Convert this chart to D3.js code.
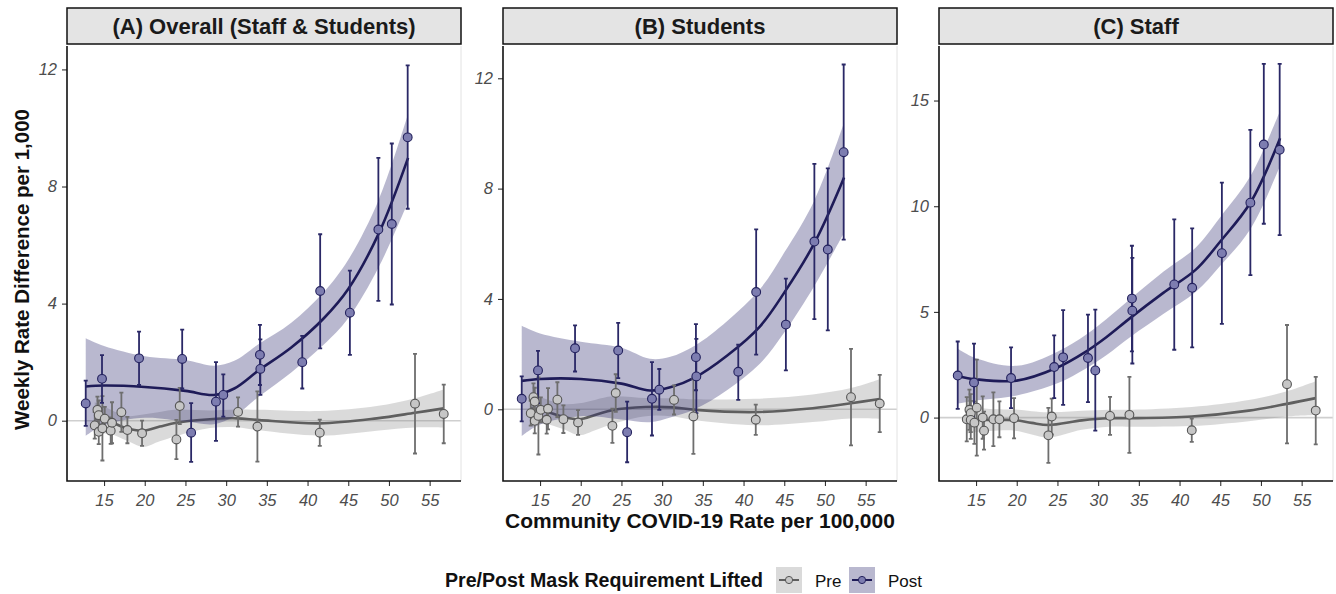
<!DOCTYPE html>
<html>
<head>
<meta charset="utf-8">
<script src="https://cdn.jsdelivr.net/npm/d3@7"></script>
<style>
  body { margin: 0; background: #fff; }
  svg { display: block; font-family: "Liberation Sans", Arial, sans-serif; }
</style>
</head>
<body>
<svg id="chart" width="1336" height="594"></svg>
<script>
// ---- data ----
const panelTitles = ['(A) Overall (Staff & Students)', '(B) Students', '(C) Staff'];
const xTicks = [15, 20, 25, 30, 35, 40, 45, 50, 55];
const yTicksAB = [0, 4, 8, 12];
const yTicksC = [0, 5, 10, 15];
const groups = ['Pre', 'Post'];

// community rate per 100,000 for each week
const preX = [13.86, 14.19, 14.35, 14.35, 14.8, 15.09, 15.82, 15.98, 17.13, 17.87, 19.67, 23.89, 24.3, 31.46, 33.84, 41.5, 53.2, 56.73];
const postX = [12.75, 14.75, 19.3, 24.6, 25.7, 28.75, 29.65, 34.15, 34.2, 39.35, 41.55, 45.2, 48.7, 50.35, 52.3];

// (A) overall
const preA = [-0.16, 0.37, 0.19, -0.38, -0.26, 0.07, -0.34, -0.07, 0.29, -0.32, -0.43, -0.64, 0.5, 0.3, -0.2, -0.41, 0.58, 0.23];
const preLoA = [-0.61, -0.08, -0.31, -0.8, -1.36, -0.33, -0.79, -0.77, -0.38, -0.77, -0.86, -1.31, -0.12, -0.2, -1.4, -0.86, -1.12, -0.77];
const preHiA = [0.29, 0.82, 0.69, 0.04, 0.84, 0.47, 0.11, 0.63, 0.96, 0.13, 0.0, 0.03, 1.12, 0.8, 1.0, 0.04, 2.28, 1.23];
const postA = [0.59, 1.43, 2.13, 2.11, -0.41, 0.65, 0.88, 2.25, 1.77, 2.0, 4.43, 3.69, 6.53, 6.72, 9.68];
const postLoA = [-0.18, 0.61, 1.22, 1.1, -1.41, -0.69, 0.14, 1.22, 0.88, 1.1, 2.47, 2.25, 4.09, 3.97, 7.24];
const postHiA = [1.37, 2.24, 3.04, 3.11, 0.6, 2.0, 1.58, 3.27, 2.78, 2.9, 6.37, 5.13, 8.98, 9.47, 12.14];

// (B) students
const preB = [-0.14, 0.44, 0.28, -0.42, -0.24, -0.02, -0.38, 0.02, 0.35, -0.36, -0.48, -0.6, 0.59, 0.34, -0.26, -0.38, 0.44, 0.21];
const preLoB = [-0.59, -0.06, -0.22, -0.87, -1.64, -0.47, -0.88, -0.73, -0.28, -0.86, -0.93, -1.22, -0.09, -0.19, -1.62, -0.93, -1.31, -0.83];
const preHiB = [0.31, 0.94, 0.78, 0.03, 1.16, 0.43, 0.12, 0.77, 0.98, 0.14, -0.03, 0.02, 1.27, 0.87, 1.1, 0.17, 2.19, 1.25];
const postB = [0.38, 1.41, 2.21, 2.13, -0.83, 0.38, 0.71, 1.89, 1.19, 1.36, 4.25, 3.07, 6.08, 5.79, 9.32];
const postLoB = [-0.44, 0.22, 1.37, 1.13, -1.92, -0.95, -0.02, 0.69, -0.14, 0.34, 1.98, 1.41, 3.27, 2.86, 6.15];
const postHiB = [1.19, 2.12, 3.04, 3.13, 0.28, 1.71, 1.46, 3.09, 2.55, 2.34, 6.52, 4.74, 8.9, 8.73, 12.5];

// (C) staff
const preC = [-0.08, 0.37, 0.21, -0.11, -0.24, 0.47, 0.0, -0.62, -0.08, -0.08, -0.03, -0.84, 0.05, 0.08, 0.13, -0.6, 1.58, 0.33];
const preLoC = [-1.13, -0.58, -0.69, -1.01, -1.24, -1.8, -1.0, -1.52, -1.35, -0.93, -0.98, -2.14, -0.8, -0.82, -1.67, -1.15, -1.22, -1.27];
const preHiC = [0.97, 1.32, 1.11, 0.79, 0.76, 2.74, 1.0, 0.28, 1.19, 0.77, 0.92, 0.46, 0.9, 0.98, 1.93, -0.05, 4.38, 1.93];
const postC = [1.99, 1.66, 1.87, 2.39, 2.85, 2.82, 2.23, 5.63, 5.06, 6.3, 6.14, 7.78, 10.17, 12.92, 12.67];
const postLoC = [0.41, -0.3, 0.45, 0.92, 0.6, 0.73, -0.62, 3.13, 2.56, 3.21, 3.32, 4.43, 6.74, 9.17, 8.63];
const postHiC = [3.6, 3.5, 3.32, 3.89, 5.08, 4.87, 5.11, 8.13, 7.56, 9.38, 8.95, 11.12, 13.61, 16.73, 16.73];

// loess smoothers, read at a few x positions (fit, lower, upper)
const preKnots = [13.86, 15.7, 17.75, 19.8, 21.85, 23.9, 28, 31.3, 34.1, 41.5, 48.5, 53.2, 56.73];
const postKnots = [12.75, 15, 20, 25, 28.5, 31, 34, 38, 42, 45, 48.75, 52.35];

const preFitA = [0.08, -0.03, -0.26, -0.34, -0.2, -0.07, 0.05, 0.08, 0.02, -0.09, 0.08, 0.27, 0.42];
const preFitLoA = [-0.47, -0.45, -0.68, -0.89, -0.7, -0.52, -0.25, -0.22, -0.33, -0.51, -0.34, -0.23, -0.23];
const preFitHiA = [0.63, 0.39, 0.16, 0.21, 0.3, 0.38, 0.35, 0.38, 0.37, 0.33, 0.5, 0.77, 1.07];
const postFitA = [1.17, 1.2, 1.15, 1.02, 0.88, 1.1, 1.72, 2.5, 3.5, 4.5, 6.4, 8.98];
const postFitLoA = [-0.52, -0.15, 0.1, -0.03, -0.12, 0.15, 0.82, 1.65, 2.6, 3.5, 5.25, 7.48];
const postFitHiA = [2.82, 2.55, 2.2, 2.07, 1.88, 2.05, 2.62, 3.35, 4.4, 5.5, 7.55, 10.48];

const preFitB = [0.04, -0.08, -0.26, -0.36, -0.2, -0.03, 0.08, 0.07, -0.02, -0.1, 0.04, 0.22, 0.37];
const preFitLoB = [-0.56, -0.53, -0.71, -0.94, -0.75, -0.53, -0.25, -0.26, -0.4, -0.58, -0.46, -0.33, -0.35];
const preFitHiB = [0.64, 0.37, 0.19, 0.22, 0.35, 0.47, 0.41, 0.4, 0.36, 0.38, 0.54, 0.77, 1.09];
const postFitB = [1.03, 1.1, 1.1, 0.93, 0.68, 0.8, 1.15, 1.95, 3.0, 4.23, 6.05, 8.4];
const postFitLoB = [-0.97, -0.55, -0.25, -0.37, -0.47, -0.3, 0.0, 0.7, 1.65, 2.78, 4.5, 6.4];
const postFitHiB = [3.03, 2.75, 2.45, 2.23, 1.83, 1.9, 2.3, 3.2, 4.35, 5.68, 7.6, 10.4];

const preFitC = [-0.1, -0.11, -0.11, -0.12, -0.25, -0.35, -0.13, -0.03, -0.03, 0.05, 0.33, 0.65, 0.92];
const preFitLoC = [-0.75, -0.66, -0.61, -0.62, -0.8, -0.95, -0.58, -0.43, -0.43, -0.4, -0.17, 0.05, 0.12];
const preFitHiC = [0.55, 0.44, 0.39, 0.38, 0.3, 0.25, 0.32, 0.37, 0.37, 0.5, 0.83, 1.25, 1.72];
const postFitC = [1.96, 1.81, 1.75, 2.37, 3.12, 3.8, 4.73, 5.9, 7.0, 8.33, 10.2, 13.22];
const postFitLoC = [0.66, 0.81, 1.05, 1.62, 2.32, 2.95, 3.83, 4.9, 5.95, 7.18, 8.95, 11.92];
const postFitHiC = [3.26, 2.81, 2.45, 3.12, 3.92, 4.65, 5.63, 6.9, 8.05, 9.48, 11.45, 14.52];

// ---- layout ----
const svg = d3.select('#chart');
const panelTop = 46;
const panelH = 435;
const panelW = 394;
const stripTop = 8;
const xDomain = [10.45, 58.85];

const style = {
  Pre: { line: '#5f5f5f', bar: '#6e6e6e', fill: '#c6c6c6', stroke: '#555555', band: '#8c8c8c', bandOpacity: 0.32 },
  Post: { line: '#1e1b58', bar: '#2a2866', fill: '#7d7db0', stroke: '#23215d', band: '#24226a', bandOpacity: 0.32 }
};

const zip = (xs, ys, los, his) => xs.map((x, i) => ({ x, y: ys[i], lo: los[i], hi: his[i] }));

const panels = [
  { title: panelTitles[0], left: 67, yDomain: [-2.06, 12.8], yTicks: yTicksAB,
    Pre: { pts: zip(preX, preA, preLoA, preHiA), fit: zip(preKnots, preFitA, preFitLoA, preFitHiA) },
    Post: { pts: zip(postX, postA, postLoA, postHiA), fit: zip(postKnots, postFitA, postFitLoA, postFitHiA) } },
  { title: panelTitles[1], left: 503, yDomain: [-2.6, 13.17], yTicks: yTicksAB,
    Pre: { pts: zip(preX, preB, preLoB, preHiB), fit: zip(preKnots, preFitB, preFitLoB, preFitHiB) },
    Post: { pts: zip(postX, postB, postLoB, postHiB), fit: zip(postKnots, postFitB, postFitLoB, postFitHiB) } },
  { title: panelTitles[2], left: 939, yDomain: [-3.0, 17.58], yTicks: yTicksC,
    Pre: { pts: zip(preX, preC, preLoC, preHiC), fit: zip(preKnots, preFitC, preFitLoC, preFitHiC) },
    Post: { pts: zip(postX, postC, postLoC, postHiC), fit: zip(postKnots, postFitC, postFitLoC, postFitHiC) } }
];

const defs = svg.append('defs');

panels.forEach((p, pi) => {
  const x = d3.scaleLinear().domain(xDomain).range([0, panelW]);
  const y = d3.scaleLinear().domain(p.yDomain).range([panelH, 0]);

  // strip
  svg.append('rect')
    .attr('x', p.left).attr('y', stripTop)
    .attr('width', panelW).attr('height', panelTop - stripTop - 2)
    .attr('fill', '#e4e4e4').attr('stroke', '#111').attr('stroke-width', 1.5);
  svg.append('text')
    .attr('x', p.left + panelW / 2).attr('y', stripTop + 26)
    .attr('text-anchor', 'middle')
    .attr('font-size', 22).attr('font-weight', 'bold').attr('fill', '#1a1a1a')
    .text(p.title);

  const g = svg.append('g').attr('transform', `translate(${p.left},${panelTop})`);

  defs.append('clipPath').attr('id', `clip${pi}`)
    .append('rect').attr('width', panelW).attr('height', panelH);

  const plot = g.append('g').attr('clip-path', `url(#clip${pi})`);

  // zero reference line
  plot.append('line')
    .attr('x1', 0).attr('x2', panelW)
    .attr('y1', y(0)).attr('y2', y(0))
    .attr('stroke', '#cfcfcf').attr('stroke-width', 1.6);

  // light right border
  g.append('line')
    .attr('x1', panelW).attr('x2', panelW).attr('y1', 0).attr('y2', panelH)
    .attr('stroke', '#e2e2e2').attr('stroke-width', 1);

  const curve = d3.curveCatmullRom.alpha(0.5);
  const band = d3.area().curve(curve).x(d => x(d.x)).y0(d => y(d.lo)).y1(d => y(d.hi));
  const fitLine = d3.line().curve(curve).x(d => x(d.x)).y(d => y(d.y));

  groups.forEach(gr => {
    plot.append('path').datum(p[gr].fit)
      .attr('d', band)
      .attr('fill', style[gr].band).attr('fill-opacity', style[gr].bandOpacity);
    plot.append('path').datum(p[gr].fit)
      .attr('d', fitLine)
      .attr('fill', 'none').attr('stroke', style[gr].line).attr('stroke-width', 2.6);
  });

  groups.forEach(gr => {
    const bars = plot.append('g')
      .attr('stroke', style[gr].bar).attr('stroke-width', 1.8).attr('fill', 'none');
    bars.selectAll('path').data(p[gr].pts).join('path')
      .attr('d', d => {
        const cx = x(d.x), t = y(d.hi), b = y(d.lo);
        return `M${cx - 2},${t}H${cx + 2}M${cx},${t}V${b}M${cx - 2},${b}H${cx + 2}`;
      });
  });

  groups.forEach(gr => {
    plot.append('g').selectAll('circle').data(p[gr].pts).join('circle')
      .attr('cx', d => x(d.x)).attr('cy', d => y(d.y)).attr('r', 4.4)
      .attr('fill', style[gr].fill).attr('stroke', style[gr].stroke).attr('stroke-width', 1.1);
  });

  // axes
  const xAxis = g.append('g').attr('transform', `translate(0,${panelH})`)
    .call(d3.axisBottom(x).tickValues(xTicks).tickSize(5).tickPadding(5));
  const yAxis = g.append('g')
    .call(d3.axisLeft(y).tickValues(p.yTicks).tickSize(5).tickPadding(5));
  [xAxis, yAxis].forEach(ax => {
    ax.select('.domain').remove();
    ax.selectAll('.tick line').attr('stroke', '#333').attr('stroke-width', 1.1);
    ax.selectAll('.tick text')
      .attr('fill', '#4d4d4d').attr('font-size', 16.5).attr('font-style', 'italic')
      .attr('font-family', '"Liberation Sans", Arial, sans-serif');
  });
  xAxis.selectAll('.tick text').attr('dy', '0.9em');

  g.append('path')
    .attr('d', `M0,0V${panelH}H${panelW}`)
    .attr('fill', 'none').attr('stroke', '#111').attr('stroke-width', 1.6);
});

// axis titles
svg.append('text')
  .attr('transform', `translate(29,${panelTop + panelH / 2 + 6}) rotate(-90)`)
  .attr('text-anchor', 'middle')
  .attr('font-size', 20.5).attr('font-weight', 'bold').attr('fill', '#111')
  .text('Weekly Rate Difference per 1,000');

svg.append('text')
  .attr('x', 503 + panelW / 2).attr('y', 528)
  .attr('text-anchor', 'middle')
  .attr('font-size', 21).attr('font-weight', 'bold').attr('fill', '#111')
  .text('Community COVID-19 Rate per 100,000');

// legend
const legend = svg.append('g');
legend.append('text')
  .attr('x', 445).attr('y', 587)
  .attr('font-size', 19.6).attr('font-weight', 'bold').attr('fill', '#111')
  .text('Pre/Post Mask Requirement Lifted');

const keyX = { Pre: 776, Post: 849 };
groups.forEach(gr => {
  const kx = keyX[gr];
  legend.append('rect')
    .attr('x', kx).attr('y', 567).attr('width', 26).attr('height', 26)
    .attr('fill', style[gr].band).attr('fill-opacity', style[gr].bandOpacity);
  legend.append('line')
    .attr('x1', kx + 3).attr('x2', kx + 23).attr('y1', 580).attr('y2', 580)
    .attr('stroke', style[gr].line).attr('stroke-width', 2);
  legend.append('circle')
    .attr('cx', kx + 13).attr('cy', 580).attr('r', 3.6)
    .attr('fill', style[gr].fill).attr('stroke', style[gr].stroke).attr('stroke-width', 1);
  legend.append('text')
    .attr('x', kx + 39).attr('y', 587)
    .attr('font-size', 17).attr('fill', '#111')
    .text(gr);
});
</script>
</body>
</html>
